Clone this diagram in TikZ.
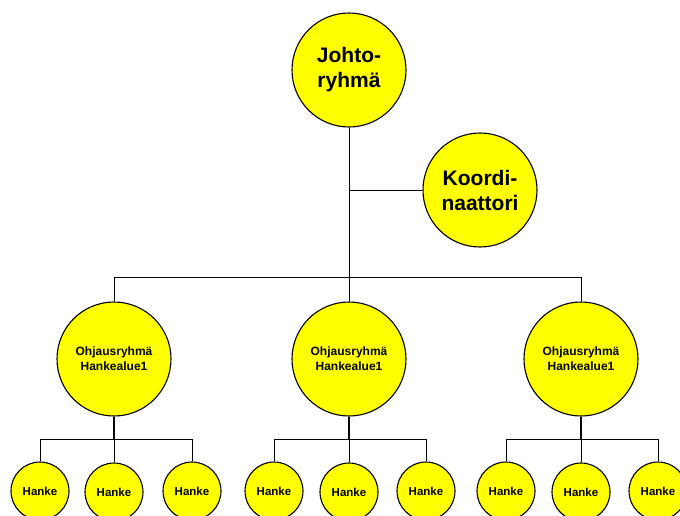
\documentclass[tikz,border=0pt]{standalone}
\usepackage{fontspec}
\setmainfont{Liberation Sans}
\usepackage{tikz}
\usetikzlibrary{positioning}
\definecolor{hankeyellow}{RGB}{255,255,0}

\begin{document}
\begin{tikzpicture}[x=1pt, y=-1pt, line width=1pt,
    ympyra/.style={circle, draw, line width=1.1pt, fill=hankeyellow, align=center, inner sep=0pt},
    johtopallo/.style={ympyra, minimum size=114pt, font=\fontsize{21}{25}\selectfont\bfseries},
    ohjauspallo/.style={ympyra, minimum size=114pt, font=\fontsize{12}{15}\selectfont\bfseries},
    hankepallo/.style={ympyra, minimum size=58pt, font=\fontsize{11.5}{14}\selectfont\bfseries}]
        \clip (0,0) rectangle (680,515);
        % ylataso
        \node[johtopallo] (johto) at (349,70) {Johto-\\ryhm\"a};
        \node[johtopallo] (koord) at (480,190) {Koordi-\\naattori};
        \coordinate (haara) at (koord.west -| johto.south);
        \coordinate (palkki) at (349,277);
        \coordinate (alapalkki) at (0,439);
        % ohjausryhmat ja hankkeet
        \foreach \i/\x in {1/114,2/349,3/581} { \node[ohjauspallo] (ohj\i) at (\x,359) {Ohjausryhm\"a\\Hankealue1}; }
        \foreach \i/\a/\b/\c in {1/40/114/192,2/274/349/426,3/506/581/658} {
            \node[hankepallo] (h\i1) at (\a,491) {Hanke};
            \node[hankepallo] (h\i2) at (\b,492) {Hanke};
            \node[hankepallo] (h\i3) at (\c,491) {Hanke};
            \draw (h\i1.north) |- (h\i3.north |- alapalkki) -- (h\i3.north);
            \draw (h\i2.north) -- (h\i2.north |- alapalkki);
            \draw[line width=1.8pt] (ohj\i.south) -- (ohj\i.south |- alapalkki);
        }
        \draw (johto.south) -- (palkki);
        \draw (haara) -- (koord.west);
        \draw (ohj1.north) |- (ohj3.north |- palkki) -- (ohj3.north);
        \draw (palkki) -- (ohj2.north);
\end{tikzpicture}
\end{document}
